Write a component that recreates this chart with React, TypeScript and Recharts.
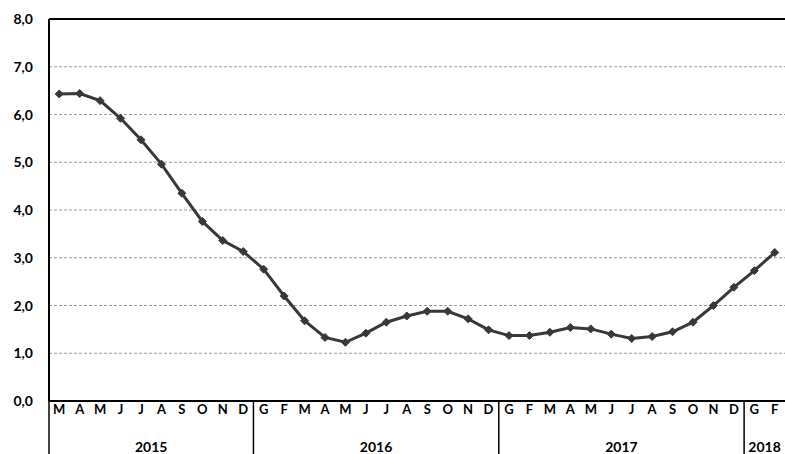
import React from 'react';
import { LineChart, Line, XAxis, YAxis, CartesianGrid, ReferenceLine } from 'recharts';

const months = ['M','A','M','J','J','A','S','O','N','D','G','F','M','A','M','J','J','A','S','O','N','D','G','F','M','A','M','J','J','A','S','O','N','D','G','F'];
const values = [6.43,6.44,6.29,5.92,5.47,4.96,4.35,3.76,3.36,3.13,2.76,2.2,1.68,1.33,1.23,1.42,1.65,1.78,1.88,1.88,1.72,1.49,1.37,1.37,1.44,1.54,1.51,1.4,1.31,1.35,1.45,1.65,2.0,2.38,2.73,3.11];
const years = [
  { label: '2015', count: 10 },
  { label: '2016', count: 12 },
  { label: '2017', count: 12 },
  { label: '2018', count: 2 },
];
const yTicks = [0, 1, 2, 3, 4, 5, 6, 7, 8];

const data = months.map((m, i) => ({ i, month: m, value: values[i] }));

const W = 785;
const H = 454;
const TOP = 19;
const BOTTOM = 53;
const LEFT = 49;
const RIGHT = 0;
const plotW = W - LEFT - RIGHT;
const step = plotW / months.length;
const axisY = H - BOTTOM;
const FONT = 'Lato, "Open Sans", sans-serif';

const yearStarts: number[] = [];
const yearMids: { idx: number; label: string }[] = [];
{
  let acc = 0;
  years.forEach((y) => {
    yearStarts.push(acc);
    yearMids.push({ idx: acc + (y.count - 1) / 2, label: y.label });
    acc += y.count;
  });
}

const MonthTick = (props: any) => {
  const { x, payload } = props;
  const i = payload.value as number;
  const els: React.ReactNode[] = [];
  els.push(
    <text key="m" x={x} y={axisY + 13} textAnchor="middle" fontFamily={FONT} fontWeight={700} fontSize={13} fill="#000">
      {months[i]}
    </text>
  );
  if (yearStarts.includes(i)) {
    els.push(
      <line key="s" x1={x - step / 2} x2={x - step / 2} y1={axisY} y2={H} stroke="#000" strokeWidth={1.5} />
    );
  }
  yearMids.forEach((ym) => {
    if (Math.floor(ym.idx) === i) {
      const off = (ym.idx - i) * step;
      els.push(
        <text key={'y' + ym.label} x={x + off} y={axisY + 51} textAnchor="middle" fontFamily={FONT} fontWeight={700} fontSize={14} fill="#000">
          {ym.label}
        </text>
      );
    }
  });
  return <g>{els}</g>;
};

const YTick = (props: any) => {
  const { y, payload } = props;
  return (
    <text x={33} y={y} dy={5} textAnchor="end" fontFamily={FONT} fontWeight={700} fontSize={14} fill="#000">
      {(payload.value as number).toFixed(1).replace('.', ',')}
    </text>
  );
};

const Diamond = (props: any) => {
  const { cx, cy } = props;
  if (cx == null || cy == null) return null;
  const r = 4;
  return (
    <polygon
      points={`${cx},${cy - r} ${cx + r},${cy} ${cx},${cy + r} ${cx - r},${cy}`}
      fill="#383838"
      stroke="#383838"
      strokeWidth={1}
    />
  );
};

export default function App() {
  return (
    <div style={{ position: 'absolute', left: 0, top: 0, width: W, height: H, background: '#fff' }}>
      <LineChart width={W} height={H} data={data} margin={{ top: TOP, right: RIGHT, bottom: 0, left: 0 }}>
        <CartesianGrid vertical={false} stroke="#9a9a9a" strokeDasharray="3 2" strokeWidth={1} />
        <XAxis
          dataKey="i"
          type="category"
          scale="band"
          interval={0}
          tickLine={false}
          axisLine={{ stroke: '#000', strokeWidth: 2 }}
          tick={<MonthTick />}
          height={BOTTOM}
        />
        <YAxis
          domain={[0, 8]}
          ticks={yTicks}
          width={LEFT}
          tickLine={false}
          axisLine={{ stroke: '#000', strokeWidth: 2 }}
          tick={<YTick />}
          interval={0}
        />
        <ReferenceLine y={8} stroke="#000" strokeWidth={2} />
        <Line
          type="linear"
          dataKey="value"
          stroke="#383838"
          strokeWidth={3}
          dot={<Diamond />}
          activeDot={false}
          isAnimationActive={false}
        />
      </LineChart>
    </div>
  );
}
